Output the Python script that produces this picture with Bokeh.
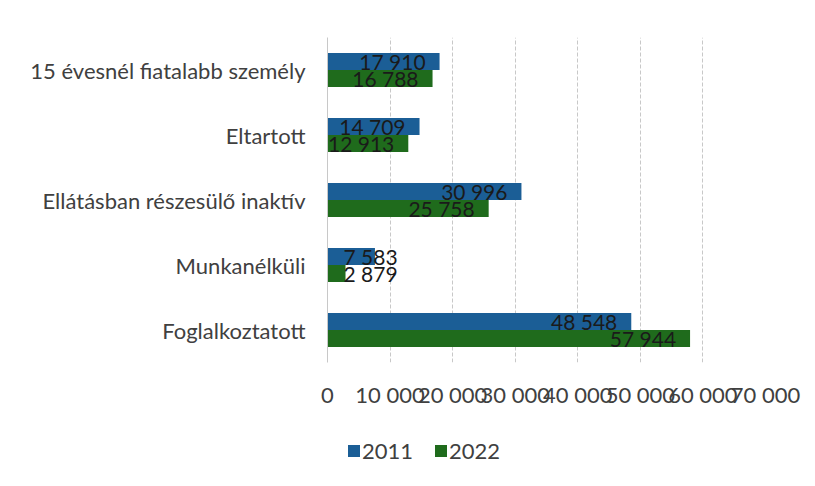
from bokeh.plotting import figure
from bokeh.models import ColumnDataSource, FactorRange, Range1d, FixedTicker, Legend, LegendItem
from bokeh.layouts import column
from bokeh.transform import dodge
from bokeh.core.properties import value
from bokeh.embed import file_html
from bokeh.resources import INLINE

categories = ["Foglalkoztatott", "Munkanélküli", "Ellátásban részesülő inaktív",
              "Eltartott", "15 évesnél fiatalabb személy"]
values_2011 = [48548, 7583, 30996, 14709, 17910]
values_2022 = [57944, 2879, 25758, 12913, 16788]
series_names = ["2011", "2022"]
x_ticks = [0, 10000, 20000, 30000, 40000, 50000, 60000, 70000]

FONT = "Lato"
BLUE = "#1b5e96"
GREEN = "#1f6b1c"
COLORS = [BLUE, GREEN]

def fmt(v):
    return f"{v:,}".replace(",", " ")

p = figure(width=815, height=410, y_range=FactorRange(*categories, range_padding=0),
           x_range=Range1d(0, 70000), output_backend="svg", toolbar_location=None,
           min_border_left=327, min_border_right=50, min_border_top=37, min_border_bottom=43)
p.outline_line_color = None

def make_src(vals):
    small = [v < 10000 for v in vals]
    return ColumnDataSource(dict(
        cat=categories, val=vals,
        label=[fmt(v) for v in vals],
        lx=[0 if s else v for s, v in zip(small, vals)],
        align=["left" if s else "right" for s in small],
        off=[16 if s else -14 for s in small],
    ))

src1 = make_src(values_2011)
src2 = make_src(values_2022)

p.hbar(y=dodge("cat", 0.13, range=p.y_range), right="val", left=0, height=0.26,
       source=src1, fill_color=BLUE, line_color=None)
p.hbar(y=dodge("cat", -0.13, range=p.y_range), right="val", left=0, height=0.26,
       source=src2, fill_color=GREEN, line_color=None)

for src, d in ((src1, 0.13), (src2, -0.13)):
    p.text(x="lx", y=dodge("cat", d, range=p.y_range), text="label", source=src,
           text_align="align", x_offset="off", text_baseline="middle",
           text_font=value(FONT), text_font_size="21px", text_color="#1a1a1a")

p.xaxis.ticker = FixedTicker(ticks=x_ticks)
p.xaxis.major_label_overrides = {t: fmt(t) for t in x_ticks}
p.xaxis.axis_line_color = None
p.xaxis.major_tick_line_color = None
p.xaxis.minor_tick_line_color = None
p.xaxis.major_label_standoff = 12
p.xaxis.major_label_text_font = FONT
p.xaxis.major_label_text_font_size = "22px"
p.xaxis.major_label_text_color = "#404040"

p.yaxis.axis_line_color = "#c8c8c8"
p.yaxis.major_tick_line_color = None
p.yaxis.minor_tick_line_color = None
p.yaxis.major_label_standoff = 16
p.yaxis.major_label_text_font = FONT
p.yaxis.major_label_text_font_size = "22px"
p.yaxis.major_label_text_color = "#404040"

p.ygrid.grid_line_color = None
p.xgrid.grid_line_color = "#c8c8c8"
p.xgrid.grid_line_dash = "4 2"

# legend strip
lg = figure(width=815, height=76, x_range=Range1d(0, 1), y_range=Range1d(0, 1),
            output_backend="svg", toolbar_location=None, min_border=0,
            min_border_left=0, min_border_right=0, min_border_top=0, min_border_bottom=0)
lg.axis.visible = False
lg.grid.visible = False
lg.outline_line_color = None
items = []
for name, col in zip(series_names, COLORS):
    r = lg.hbar(y=[0], right=[0], left=0, height=0.1, fill_color=col, line_color=None,
                visible=False)
    items.append(LegendItem(label=name, renderers=[r]))

legend = Legend(items=items, orientation="horizontal", location=(19, 22), margin=0, padding=0,
                label_text_font=FONT, label_text_font_size="22px", label_text_color="#404040",
                glyph_width=15, glyph_height=15, spacing=20, label_standoff=1,
                border_line_color=None, background_fill_alpha=0)
lg.add_layout(legend, "center")

open("out.html", "w").write(file_html(column(p, lg, spacing=0), INLINE))
